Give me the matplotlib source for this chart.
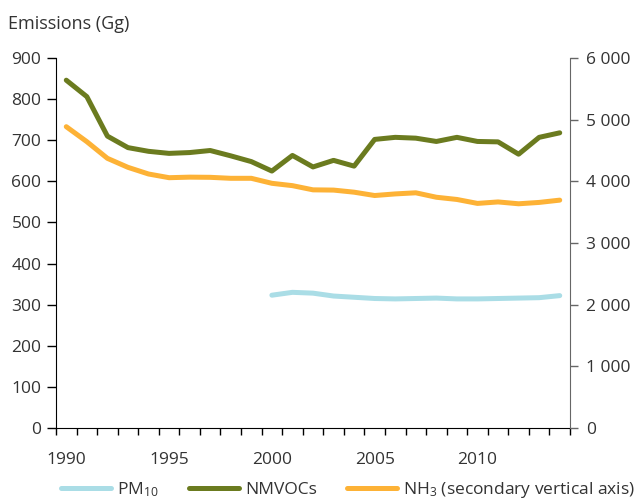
import numpy as np
import matplotlib
matplotlib.use("Agg")
import matplotlib.pyplot as plt
from matplotlib.ticker import FixedLocator, FuncFormatter

plt.rcParams["font.family"] = ["Open Sans", "DejaVu Sans"]
plt.rcParams["mathtext.default"] = "regular"
plt.rcParams["text.color"] = "#333333"

years = np.arange(1990, 2015)
nmvoc = [846, 806, 710, 682, 673, 668, 670, 675, 662, 648, 625, 663, 635, 651, 637,
         702, 707, 705, 697, 707, 697, 696, 666, 707, 718]
nh3 = [4886, 4643, 4373, 4227, 4119, 4059, 4068, 4065, 4049, 4049, 3968, 3930, 3862, 3858, 3824,
       3770, 3796, 3814, 3742, 3706, 3642, 3666, 3636, 3658, 3695]
pm_years = np.arange(2000, 2015)
pm10 = [323, 330, 328, 321, 318, 315, 314, 315, 316, 314, 314, 315, 316, 317, 322]

green = "#6b7b1f"
orange = "#fdb236"
blue = "#aadde6"
text_c = "#333333"
fs = 12.5

fig = plt.figure(figsize=(6.4, 5.04), dpi=100)
ax = fig.add_axes([56 / 640, 1 - 428 / 504, 514 / 640, 370 / 504])
ax2 = ax.twinx()

ax.plot(pm_years, pm10, color=blue, lw=3.6, solid_capstyle="round", label="PM$_{10}$")
ax.plot(years, nmvoc, color=green, lw=3.6, solid_capstyle="round", label="NMVOCs")
ax2.plot(years, nh3, color=orange, lw=3.6, solid_capstyle="round",
         label="NH$_3$ (secondary vertical axis)")

ax.set_xlim(1989.5, 2014.5)
ax.set_ylim(0, 900)
ax2.set_ylim(0, 6000)
ax.set_yticks(np.arange(0, 901, 100))
ax2.set_yticks(np.arange(0, 6001, 1000))
ax2.yaxis.set_major_formatter(FuncFormatter(lambda v, p: f"{v:,.0f}".replace(",", " ")))

ax.set_xticks([1990, 1995, 2000, 2005, 2010])
ax.xaxis.set_minor_locator(FixedLocator(np.arange(1989.5, 2015, 1)))
ax.tick_params(axis="x", which="major", length=0, pad=17, labelsize=fs, labelcolor=text_c)
ax.tick_params(axis="x", which="minor", length=5, width=1, color="black", direction="out")
ax.tick_params(axis="y", length=6.5, width=1, pad=4, labelsize=fs, labelcolor=text_c, color="black")
ax2.tick_params(axis="y", length=5.4, width=1, pad=6, labelsize=fs, labelcolor=text_c, color="#666666")

for a in (ax, ax2):
    a.spines["top"].set_visible(False)
ax.spines["right"].set_visible(False)
ax2.spines["left"].set_visible(False)
ax2.spines["bottom"].set_visible(False)
ax2.spines["right"].set_color("#666666")
ax.spines["left"].set_color("black")
ax.spines["bottom"].set_color("black")

fig.text(8 / 640, 1 - 24 / 504, "Emissions (Gg)", fontsize=13, va="center", ha="left", color=text_c)

h1, l1 = ax.get_legend_handles_labels()
h2, l2 = ax2.get_legend_handles_labels()
fig.legend(h1 + h2, l1 + l2, loc="center", bbox_to_anchor=(348 / 640, 1 - 490 / 504), ncol=3,
           frameon=False, fontsize=fs, handlelength=2.9, handletextpad=0.33,
           columnspacing=1.75, borderaxespad=0, borderpad=0)

fig.savefig("out.png", dpi=100)
